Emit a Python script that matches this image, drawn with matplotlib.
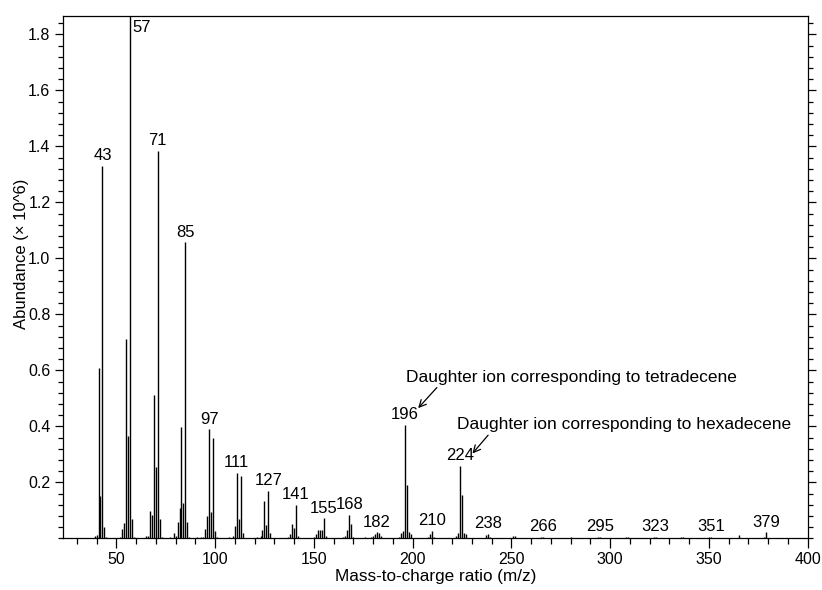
import matplotlib
matplotlib.use("Agg")
import matplotlib.pyplot as plt
from matplotlib.ticker import MultipleLocator

plt.rcParams['font.family'] = ['Liberation Sans', 'DejaVu Sans']

# m/z of each line in the spectrum and its abundance (x10^6)
mz = [39, 40, 41, 42, 43, 44, 45,
      52, 53, 54, 55, 56, 57, 58, 59,
      65, 66, 67, 68, 69, 70, 71, 72, 73,
      77, 79, 80, 81, 82, 83, 84, 85, 86, 87,
      91, 93, 94, 95, 96, 97, 98, 99, 100, 101,
      107, 109, 110, 111, 112, 113, 114,
      121, 123, 124, 125, 126, 127, 128,
      137, 138, 139, 140, 141, 142,
      150, 151, 152, 153, 154, 155, 156,
      165, 166, 167, 168, 169, 170,
      176, 179, 180, 181, 182, 183, 184,
      193, 194, 195, 196, 197, 198, 199,
      208, 209, 210, 211,
      222, 223, 224, 225, 226, 227,
      237, 238, 239,
      251, 252,
      265, 266,
      280,
      294, 295,
      308, 309,
      322, 323,
      336, 337,
      350, 351,
      365,
      378, 379]
abundance = [0.008, 0.012, 0.607, 0.152, 1.331, 0.041, 0.004,
             0.004, 0.032, 0.056, 0.712, 0.365, 1.865, 0.069, 0.004,
             0.008, 0.010, 0.097, 0.083, 0.512, 0.256, 1.384, 0.069, 0.004,
             0.004, 0.018, 0.008, 0.060, 0.107, 0.398, 0.126, 1.057, 0.060, 0.004,
             0.004, 0.006, 0.005, 0.032, 0.080, 0.389, 0.095, 0.359, 0.026, 0.004,
             0.004, 0.010, 0.045, 0.234, 0.069, 0.224, 0.020,
             0.004, 0.008, 0.030, 0.134, 0.048, 0.169, 0.019,
             0.006, 0.015, 0.051, 0.036, 0.119, 0.010,
             0.004, 0.015, 0.028, 0.030, 0.028, 0.071, 0.010,
             0.006, 0.010, 0.030, 0.083, 0.051, 0.006,
             0.004, 0.005, 0.008, 0.015, 0.021, 0.020, 0.010,
             0.006, 0.020, 0.026, 0.405, 0.190, 0.024, 0.015,
             0.006, 0.015, 0.026, 0.006,
             0.010, 0.020, 0.258, 0.155, 0.020, 0.015,
             0.012, 0.015, 0.006,
             0.008, 0.010,
             0.004, 0.006,
             0.004,
             0.004, 0.005,
             0.006, 0.004,
             0.004, 0.004,
             0.005, 0.004,
             0.004, 0.004,
             0.013,
             0.006, 0.021]

# peaks labelled with their m/z
label_mz = [43, 71, 85, 97, 111, 127, 141, 155, 168, 182, 196, 210, 224,
            238, 266, 295, 323, 351, 379]

notes = ["Daughter ion corresponding to tetradecene",
         "Daughter ion corresponding to hexadecene"]

fig = plt.figure(figsize=(8.22, 5.90), dpi=100)
ax = fig.add_axes([0.0766, 0.0876, 0.906, 0.885])

ax.vlines(mz, 0, abundance, colors='black', linewidth=1.0)

height = dict(zip(mz, abundance))
for m in label_mz:
    ax.annotate(str(m), (m, height[m]), xytext=(0, 2), textcoords='offset points',
                ha='center', va='bottom', fontsize=12)
# the base peak is labelled beside its line
ax.text(58, 1.823, "57", ha='left', va='center', fontsize=12)

# callouts for the two daughter ions
ax.annotate(notes[0], xy=(202.8, 0.465), xytext=(196.8, 0.559),
            ha='left', va='baseline', fontsize=12.5,
            arrowprops=dict(arrowstyle='->', color='black', lw=0.9,
                            shrinkA=0, shrinkB=0,
                            relpos=(0.1, 0.0)))
ax.annotate(notes[1], xy=(230.3, 0.303), xytext=(222.5, 0.389),
            ha='left', va='baseline', fontsize=12.5,
            arrowprops=dict(arrowstyle='->', color='black', lw=0.9,
                            shrinkA=0, shrinkB=0,
                            relpos=(0.1, 0.0)))

ax.set_xlim(23, 400)
ax.set_ylim(0, 1.865)
ax.xaxis.set_major_locator(MultipleLocator(50))
ax.xaxis.set_minor_locator(MultipleLocator(10))
ax.yaxis.set_minor_locator(MultipleLocator(0.04))
ax.set_yticks([0.2, 0.4, 0.6, 0.8, 1.0, 1.2, 1.4, 1.6, 1.8])
ax.set_yticklabels(['0.2', '0.4', '0.6', '0.8', '1.0', '1.2', '1.4', '1.6', '1.8'])

ax.tick_params(which='both', direction='out', right=True, top=False,
               labelsize=11.5, width=0.9)
ax.tick_params(axis='x', which='major', length=7, pad=3)
ax.tick_params(axis='x', which='minor', length=4)
ax.tick_params(axis='y', which='major', length=6, pad=3)
ax.tick_params(axis='y', which='minor', length=3.5)
for s in ax.spines.values():
    s.set_linewidth(0.9)

ax.set_xlabel("Mass-to-charge ratio (m/z)", fontsize=12.3)
ax.set_ylabel("Abundance (× 10^6)", fontsize=12)
ax.xaxis.set_label_coords(0.50, -0.058)
ax.yaxis.set_label_coords(-0.046, 0.544)

fig.savefig("out.png", dpi=100)
